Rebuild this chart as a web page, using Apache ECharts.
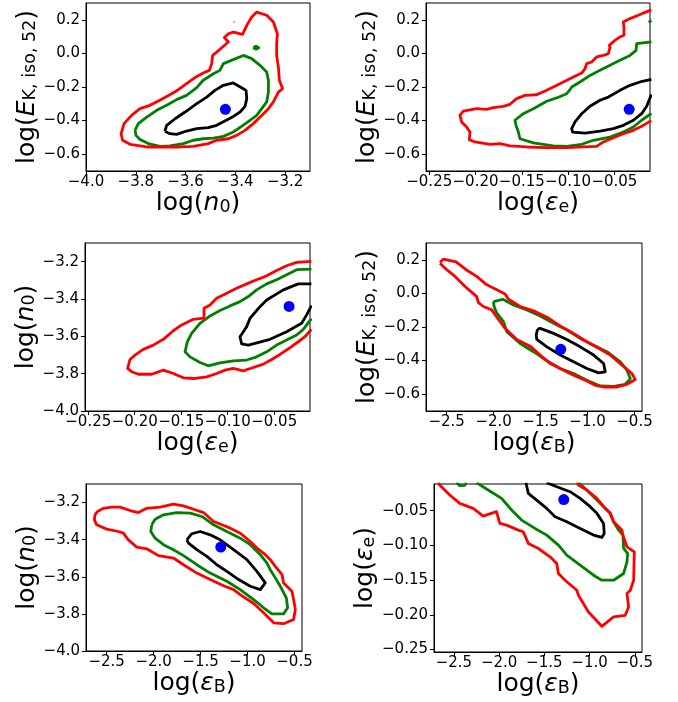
<!DOCTYPE html>
<html><head><meta charset="utf-8">
<script src="https://cdn.jsdelivr.net/npm/echarts@6/dist/echarts.min.js"></script>
<style>html,body{margin:0;padding:0;background:#fff}#c{width:678px;height:702px}</style>
</head><body><div id="c"></div>
<script>
// ---------- best-fit values ----------
const bestN0 = -3.44, bestE = -0.333, bestEe = -0.034, bestEb = -1.285;

// ---------- tick values ----------
const ticksN0 = [-4.0, -3.8, -3.6, -3.4, -3.2];
const ticksE = [-0.6, -0.4, -0.2, 0.0, 0.2];
const ticksEe = [-0.25, -0.20, -0.15, -0.10, -0.05];
const ticksEb = [-2.5, -2.0, -1.5, -1.0, -0.5];

// ---------- panel 1: log n0 vs log E ----------
const p1Red = [[-3.857,-0.468],[-3.847,-0.418],[-3.817,-0.369],[-3.783,-0.329],[-3.743,-0.309],[-3.703,-0.279],[-3.663,-0.246],[-3.629,-0.216],[-3.596,-0.180],[-3.562,-0.144],[-3.529,-0.117],[-3.504,-0.101],[-3.495,-0.061],[-3.491,-0.012],[-3.475,0.008],[-3.451,0.038],[-3.428,0.068],[-3.444,0.094],[-3.428,0.117],[-3.408,0.127],[-3.371,0.113],[-3.354,0.167],[-3.334,0.217],[-3.314,0.246],[-3.274,0.227],[-3.247,0.187],[-3.231,0.117],[-3.234,0.058],[-3.234,-0.012],[-3.227,-0.081],[-3.223,-0.160],[-3.210,-0.210],[-3.227,-0.230],[-3.247,-0.289],[-3.267,-0.329],[-3.294,-0.369],[-3.328,-0.418],[-3.361,-0.458],[-3.395,-0.488],[-3.428,-0.508],[-3.475,-0.517],[-3.509,-0.537],[-3.569,-0.553],[-3.622,-0.557],[-3.689,-0.557],[-3.756,-0.557],[-3.823,-0.541],[-3.853,-0.517],[-3.859,-0.478]];
const p1Green = [[-3.803,-0.458],[-3.790,-0.418],[-3.756,-0.379],[-3.716,-0.339],[-3.676,-0.309],[-3.636,-0.275],[-3.596,-0.250],[-3.555,-0.204],[-3.529,-0.160],[-3.488,-0.121],[-3.462,-0.101],[-3.448,-0.061],[-3.408,-0.037],[-3.368,-0.012],[-3.334,-0.031],[-3.301,-0.071],[-3.274,-0.111],[-3.267,-0.160],[-3.267,-0.230],[-3.274,-0.289],[-3.294,-0.329],[-3.314,-0.369],[-3.341,-0.398],[-3.375,-0.434],[-3.408,-0.468],[-3.448,-0.494],[-3.488,-0.504],[-3.529,-0.508],[-3.569,-0.517],[-3.609,-0.537],[-3.663,-0.551],[-3.703,-0.553],[-3.750,-0.537],[-3.783,-0.513],[-3.799,-0.488]];
const p1GreenIsland = [[-3.328,0.034],[-3.317,0.043],[-3.306,0.034],[-3.317,0.025]];
const p1RedSpeck = [[-3.407,0.187],[-3.403,0.187]];
const p1Black = [[-3.683,-0.464],[-3.676,-0.428],[-3.642,-0.389],[-3.602,-0.349],[-3.555,-0.299],[-3.515,-0.260],[-3.482,-0.220],[-3.448,-0.190],[-3.408,-0.176],[-3.375,-0.204],[-3.357,-0.220],[-3.354,-0.269],[-3.361,-0.315],[-3.381,-0.349],[-3.408,-0.375],[-3.442,-0.402],[-3.475,-0.428],[-3.509,-0.442],[-3.555,-0.448],[-3.596,-0.462],[-3.636,-0.482],[-3.663,-0.478]];

// ---------- panel 2: log eps_e vs log E ----------
const p2Red = [[-0.010,0.259],[-0.0187,0.240],[-0.0241,0.227],[-0.0331,0.207],[-0.0403,0.187],[-0.0396,0.157],[-0.0396,0.108],[-0.0439,0.098],[-0.0493,0.078],[-0.0554,0.048],[-0.0547,0.034],[-0.0565,-0.002],[-0.0619,-0.012],[-0.0691,-0.021],[-0.0745,-0.051],[-0.0799,-0.061],[-0.0817,-0.091],[-0.0853,-0.117],[-0.0943,-0.140],[-0.1051,-0.170],[-0.1159,-0.200],[-0.1249,-0.224],[-0.1339,-0.246],[-0.1465,-0.250],[-0.1556,-0.269],[-0.1628,-0.303],[-0.1700,-0.315],[-0.1808,-0.323],[-0.1880,-0.333],[-0.1988,-0.329],[-0.2132,-0.343],[-0.2168,-0.369],[-0.2150,-0.408],[-0.2096,-0.438],[-0.2060,-0.468],[-0.2067,-0.513],[-0.2006,-0.527],[-0.1844,-0.541],[-0.1736,-0.537],[-0.1628,-0.551],[-0.1447,-0.557],[-0.1231,-0.561],[-0.1015,-0.561],[-0.0835,-0.557],[-0.0691,-0.553],[-0.0619,-0.527],[-0.0511,-0.502],[-0.0403,-0.478],[-0.0295,-0.458],[-0.0205,-0.434],[-0.010,-0.400]];
const p2Green = [[-0.010,0.069],[-0.0259,0.058],[-0.0266,0.018],[-0.0331,-0.012],[-0.0439,-0.041],[-0.0547,-0.071],[-0.0655,-0.101],[-0.0763,-0.131],[-0.0871,-0.170],[-0.0961,-0.200],[-0.0979,-0.216],[-0.1015,-0.240],[-0.1123,-0.265],[-0.1231,-0.285],[-0.1375,-0.329],[-0.1484,-0.359],[-0.1574,-0.398],[-0.1563,-0.428],[-0.1537,-0.468],[-0.1520,-0.508],[-0.1375,-0.533],[-0.1159,-0.551],[-0.1015,-0.553],[-0.0853,-0.541],[-0.0727,-0.517],[-0.0547,-0.498],[-0.0403,-0.468],[-0.0295,-0.438],[-0.0205,-0.398],[-0.010,-0.357]];
const p2GreenBit = [[-0.0129,0.185],[-0.010,0.196]];
const p2Black = [[-0.010,-0.155],[-0.0223,-0.170],[-0.0331,-0.190],[-0.0439,-0.220],[-0.0565,-0.260],[-0.0655,-0.279],[-0.0763,-0.315],[-0.0853,-0.359],[-0.0925,-0.408],[-0.0961,-0.448],[-0.0951,-0.468],[-0.0817,-0.474],[-0.0655,-0.462],[-0.0511,-0.448],[-0.0403,-0.428],[-0.0295,-0.398],[-0.0205,-0.359],[-0.0151,-0.315],[-0.010,-0.245]];

// ---------- panel 3: log eps_e vs log n0 ----------
const p3Red = [[-0.010,-3.198],[-0.0258,-3.204],[-0.0366,-3.222],[-0.0474,-3.247],[-0.0581,-3.276],[-0.0689,-3.297],[-0.0796,-3.319],[-0.0904,-3.342],[-0.1011,-3.369],[-0.1119,-3.396],[-0.1190,-3.432],[-0.1255,-3.450],[-0.1255,-3.503],[-0.1370,-3.509],[-0.1495,-3.539],[-0.1585,-3.570],[-0.1692,-3.616],[-0.1800,-3.647],[-0.1908,-3.670],[-0.1997,-3.701],[-0.2051,-3.724],[-0.2076,-3.772],[-0.2033,-3.790],[-0.1961,-3.803],[-0.1818,-3.803],[-0.1692,-3.781],[-0.1585,-3.799],[-0.1477,-3.822],[-0.1370,-3.826],[-0.1226,-3.817],[-0.1119,-3.799],[-0.1029,-3.781],[-0.0940,-3.772],[-0.0832,-3.785],[-0.0725,-3.767],[-0.0617,-3.749],[-0.0527,-3.724],[-0.0438,-3.697],[-0.0330,-3.661],[-0.0241,-3.629],[-0.0169,-3.602],[-0.010,-3.563]];
const p3Green = [[-0.010,-3.240],[-0.0258,-3.243],[-0.0366,-3.270],[-0.0474,-3.297],[-0.0581,-3.319],[-0.0689,-3.351],[-0.0778,-3.387],[-0.0868,-3.414],[-0.0975,-3.437],[-0.1083,-3.462],[-0.1190,-3.491],[-0.1298,-3.530],[-0.1388,-3.584],[-0.1434,-3.629],[-0.1459,-3.683],[-0.1406,-3.710],[-0.1298,-3.740],[-0.1209,-3.758],[-0.1083,-3.742],[-0.0940,-3.731],[-0.0796,-3.727],[-0.0689,-3.710],[-0.0581,-3.683],[-0.0474,-3.647],[-0.0366,-3.620],[-0.0258,-3.593],[-0.0187,-3.563],[-0.010,-3.505]];
const p3Black = [[-0.010,-3.319],[-0.0241,-3.319],[-0.0402,-3.351],[-0.0581,-3.405],[-0.0653,-3.441],[-0.0760,-3.503],[-0.0796,-3.548],[-0.0832,-3.575],[-0.0868,-3.602],[-0.0850,-3.641],[-0.0778,-3.647],[-0.0545,-3.616],[-0.0366,-3.575],[-0.0205,-3.530],[-0.0151,-3.485],[-0.010,-3.435]];

// ---------- panel 4: log eps_B vs log E ----------
const p4Red = [[-2.571,0.184],[-2.535,0.204],[-2.400,0.188],[-2.293,0.141],[-2.180,0.101],[-2.073,0.051],[-1.966,0.021],[-1.878,-0.003],[-1.842,-0.035],[-1.718,-0.078],[-1.575,-0.104],[-1.433,-0.142],[-1.291,-0.194],[-1.149,-0.238],[-1.007,-0.288],[-0.882,-0.327],[-0.758,-0.367],[-0.633,-0.427],[-0.527,-0.477],[-0.491,-0.513],[-0.580,-0.541],[-0.687,-0.557],[-0.829,-0.557],[-0.918,-0.547],[-1.024,-0.517],[-1.149,-0.487],[-1.255,-0.457],[-1.398,-0.417],[-1.504,-0.367],[-1.611,-0.314],[-1.753,-0.274],[-1.878,-0.208],[-1.966,-0.142],[-2.020,-0.098],[-2.109,-0.078],[-2.162,-0.055],[-2.180,-0.019],[-2.304,0.041],[-2.411,0.101],[-2.500,0.141],[-2.571,0.180]];
const p4Green = [[-2.002,-0.049],[-1.902,-0.035],[-1.789,-0.069],[-1.646,-0.098],[-1.504,-0.134],[-1.362,-0.178],[-1.220,-0.218],[-1.078,-0.268],[-0.935,-0.308],[-0.793,-0.347],[-0.651,-0.407],[-0.580,-0.457],[-0.544,-0.507],[-0.598,-0.541],[-0.722,-0.553],[-0.864,-0.551],[-1.007,-0.517],[-1.149,-0.477],[-1.291,-0.447],[-1.433,-0.401],[-1.575,-0.347],[-1.718,-0.298],[-1.860,-0.228],[-1.895,-0.168],[-1.966,-0.118],[-1.995,-0.078]];
const p4GreenSpeck = [[-2.029,-0.015],[-2.025,-0.015]];
const p4Black = [[-1.533,-0.214],[-1.504,-0.208],[-1.362,-0.238],[-1.220,-0.274],[-1.078,-0.318],[-0.935,-0.367],[-0.829,-0.417],[-0.811,-0.467],[-0.882,-0.473],[-1.007,-0.447],[-1.149,-0.407],[-1.291,-0.367],[-1.433,-0.318],[-1.540,-0.274],[-1.547,-0.248]];

// ---------- panel 5: log eps_B vs log n0 ----------
const p5Red = [[-2.624,-3.266],[-2.631,-3.293],[-2.606,-3.320],[-2.500,-3.343],[-2.375,-3.356],[-2.322,-3.365],[-2.269,-3.401],[-2.180,-3.440],[-2.073,-3.449],[-1.949,-3.486],[-1.789,-3.499],[-1.682,-3.535],[-1.540,-3.580],[-1.398,-3.615],[-1.255,-3.648],[-1.149,-3.669],[-1.078,-3.696],[-0.935,-3.744],[-0.829,-3.794],[-0.722,-3.848],[-0.616,-3.853],[-0.509,-3.830],[-0.491,-3.776],[-0.509,-3.723],[-0.527,-3.678],[-0.616,-3.633],[-0.633,-3.588],[-0.704,-3.544],[-0.758,-3.508],[-0.811,-3.481],[-0.900,-3.445],[-0.971,-3.410],[-1.078,-3.365],[-1.184,-3.338],[-1.273,-3.320],[-1.362,-3.302],[-1.469,-3.254],[-1.575,-3.236],[-1.682,-3.218],[-1.789,-3.209],[-1.931,-3.225],[-2.073,-3.231],[-2.162,-3.254],[-2.251,-3.243],[-2.357,-3.225],[-2.446,-3.225],[-2.535,-3.231],[-2.599,-3.249]];
const p5RedSpeck = [[-2.420,-3.406],[-2.416,-3.406]];
const p5Green = [[-2.020,-3.320],[-2.030,-3.356],[-1.984,-3.392],[-1.895,-3.427],[-1.789,-3.454],[-1.682,-3.486],[-1.540,-3.535],[-1.398,-3.580],[-1.220,-3.624],[-1.078,-3.669],[-0.935,-3.723],[-0.829,-3.767],[-0.740,-3.800],[-0.616,-3.800],[-0.573,-3.767],[-0.587,-3.714],[-0.651,-3.651],[-0.704,-3.606],[-0.758,-3.562],[-0.793,-3.526],[-0.864,-3.481],[-0.971,-3.427],[-1.078,-3.392],[-1.220,-3.356],[-1.362,-3.320],[-1.486,-3.275],[-1.611,-3.257],[-1.753,-3.254],[-1.895,-3.266],[-1.984,-3.290]];
const p5Black = [[-1.646,-3.401],[-1.593,-3.368],[-1.504,-3.356],[-1.398,-3.374],[-1.291,-3.401],[-1.149,-3.454],[-1.007,-3.508],[-0.900,-3.571],[-0.811,-3.633],[-0.864,-3.669],[-0.971,-3.651],[-1.095,-3.615],[-1.220,-3.571],[-1.327,-3.535],[-1.433,-3.490],[-1.540,-3.454],[-1.629,-3.419]];

// ---------- panel 6: log eps_B vs log eps_e ----------
const p6Red = [[-2.672,-0.0096],[-2.657,-0.0129],[-2.546,-0.0274],[-2.435,-0.0394],[-2.287,-0.0466],[-2.176,-0.0577],[-2.029,-0.0514],[-1.992,-0.0683],[-1.918,-0.0707],[-1.788,-0.0779],[-1.733,-0.0803],[-1.677,-0.0971],[-1.566,-0.1044],[-1.437,-0.1164],[-1.363,-0.1260],[-1.344,-0.1404],[-1.271,-0.1501],[-1.141,-0.1645],[-1.123,-0.1717],[-1.012,-0.1958],[-0.864,-0.2165],[-0.734,-0.2030],[-0.605,-0.2006],[-0.568,-0.1886],[-0.586,-0.1693],[-0.549,-0.1645],[-0.512,-0.1501],[-0.505,-0.1092],[-0.586,-0.1020],[-0.631,-0.0851],[-0.642,-0.0779],[-0.734,-0.0659],[-0.771,-0.0538],[-0.827,-0.0466],[-0.919,-0.0322],[-1.030,-0.0202],[-1.123,-0.0129],[-1.141,-0.0096]];
const p6Green = [[-2.250,-0.0096],[-2.121,-0.0202],[-1.973,-0.0322],[-1.862,-0.0490],[-1.751,-0.0635],[-1.603,-0.0755],[-1.474,-0.0851],[-1.344,-0.0996],[-1.252,-0.1140],[-1.104,-0.1284],[-0.956,-0.1429],[-0.864,-0.1501],[-0.734,-0.1501],[-0.623,-0.1404],[-0.586,-0.1236],[-0.579,-0.1116],[-0.623,-0.1044],[-0.631,-0.0851],[-0.679,-0.0779],[-0.734,-0.0659],[-0.771,-0.0538],[-0.827,-0.0466],[-0.938,-0.0322],[-1.030,-0.0202],[-1.123,-0.0096]];
const p6GreenBit = [[-2.472,-0.0096],[-2.435,-0.0139],[-2.380,-0.0134],[-2.361,-0.0096]];
const p6Black = [[-1.703,-0.0096],[-1.677,-0.0250],[-1.585,-0.0346],[-1.474,-0.0466],[-1.381,-0.0587],[-1.252,-0.0659],[-1.104,-0.0755],[-0.956,-0.0851],[-0.864,-0.0885],[-0.838,-0.0827],[-0.845,-0.0683],[-0.919,-0.0538],[-0.993,-0.0442],[-1.104,-0.0322],[-1.215,-0.0226],[-1.363,-0.0154],[-1.474,-0.0096]];

// ---------- rendering ----------
const FONT = 'DejaVu Sans';
const RED = '#ff0000', GREEN = '#008000', BLACK = '#000000', BLUE = '#0000ff';
const LW = 2.8;
const RICH = {
  t: {fontFamily: FONT, fontSize: 25, color: '#000', lineHeight: 25, verticalAlign: 'top'},
  i: {fontFamily: FONT, fontSize: 25, fontStyle: 'italic', color: '#000', lineHeight: 25, verticalAlign: 'top'},
  s: {fontFamily: FONT, fontSize: 17.5, color: '#000', lineHeight: 12, verticalAlign: 'bottom'}
};
const nameN0 = '{t|log(}{i|n}{s|0}{t|)}';
const nameE = '{t|log(}{i|E}{s|K, iso, 52}{t|)}';
const nameEe = '{t|log(}{i|ε}{s|e}{t|)}';
const nameEb = '{t|log(}{i|ε}{s|B}{t|)}';

function fmt(v, d) {
  const s = Math.abs(v) < 1e-9 ? (0).toFixed(d) : v.toFixed(d);
  return s.replace('-', '\u2212');
}
function closed(a) { return a.concat([a[0]]); }

const grids = [
  {left: 86, top: 3, width: 224, height: 168},
  {left: 426, top: 3, width: 224, height: 168},
  {left: 85, top: 243, width: 225, height: 168},
  {left: 426, top: 243, width: 216, height: 168},
  {left: 86, top: 484, width: 216, height: 167},
  {left: 434, top: 484, width: 208, height: 168}
];

const rN0 = [-4.0, -3.1], rE = [-0.7, 0.3], rEe = [-0.2535, -0.0115], rEb = [-2.72, -0.42];

const panels = [
  {x: [rN0, ticksN0, 1, nameN0], y: [rE, ticksE, 1, nameE],
   lines: [[closed(p1Black), BLACK], [closed(p1Green), GREEN], [closed(p1GreenIsland), GREEN], [closed(p1Red), RED], [p1RedSpeck, RED, 1.5]],
   dot: [bestN0, bestE]},
  {x: [rEe, ticksEe, 2, nameEe], y: [rE, ticksE, 1, nameE],
   lines: [[p2Black, BLACK], [p2Green, GREEN], [p2GreenBit, GREEN], [p2Red, RED]],
   dot: [bestEe, bestE]},
  {x: [rEe, ticksEe, 2, nameEe], y: [rN0, ticksN0, 1, nameN0],
   lines: [[p3Black, BLACK], [p3Green, GREEN], [p3Red, RED]],
   dot: [bestEe, bestN0]},
  {x: [rEb, ticksEb, 1, nameEb], y: [rE, ticksE, 1, nameE],
   lines: [[closed(p4Black), BLACK], [closed(p4Green), GREEN], [p4GreenSpeck, GREEN, 1.5], [closed(p4Red), RED]],
   dot: [bestEb, bestE]},
  {x: [rEb, ticksEb, 1, nameEb], y: [rN0, ticksN0, 1, nameN0],
   lines: [[closed(p5Black), BLACK], [closed(p5Green), GREEN], [closed(p5Red), RED], [p5RedSpeck, RED, 1.5]],
   dot: [bestEb, bestN0]},
  {x: [rEb, ticksEb, 1, nameEb], y: [rEe, ticksEe, 2, nameEe],
   lines: [[p6Black, BLACK], [p6Green, GREEN], [p6GreenBit, GREEN], [p6Red, RED]],
   dot: [bestEb, bestEe]}
];

function axis(dim, gi, spec) {
  const [range, ticks, dec, name] = spec;
  return {
    type: 'value', gridIndex: gi, min: range[0], max: range[1], scale: true,
    position: dim === 'x' ? 'bottom' : 'left',
    name: name, nameLocation: 'middle', nameGap: dim === 'x' ? 20 : 40,
    nameRotate: dim === 'y' ? 90 : 0,
    nameTextStyle: {fontFamily: FONT, fontSize: 25, color: '#000', rich: RICH},
    axisLine: {show: true, onZero: false, lineStyle: {color: '#000', width: 1}},
    axisTick: {show: true, inside: false, length: 4, lineStyle: {color: '#000', width: 1}, customValues: ticks},
    axisLabel: {show: true, margin: dim === 'y' ? 6 : 4, fontFamily: FONT, fontSize: 15, color: '#000',
      customValues: ticks, formatter: v => fmt(v, dec)},
    splitLine: {show: false}, splitArea: {show: false}
  };
}

const option = {
  animation: false,
  backgroundColor: '#ffffff',
  grid: grids.map(g => Object.assign({show: true, borderColor: '#000', borderWidth: 1, backgroundColor: 'transparent', containLabel: false}, g)),
  xAxis: panels.map((p, i) => axis('x', i, p.x)),
  yAxis: panels.map((p, i) => axis('y', i, p.y)),
  series: []
};
panels.forEach((p, i) => {
  p.lines.forEach(([data, color, w]) => {
    option.series.push({type: 'line', xAxisIndex: i, yAxisIndex: i, data: data, showSymbol: false, symbol: 'none',
      lineStyle: {color: color, width: w || LW, join: 'round', opacity: 1}, clip: true, silent: true, z: 3});
  });
  option.series.push({type: 'scatter', xAxisIndex: i, yAxisIndex: i, data: [p.dot], symbolSize: 11,
    itemStyle: {color: BLUE, opacity: 1}, silent: true, z: 5});
});

const chart = echarts.init(document.getElementById('c'), null, {renderer: 'canvas'});
chart.setOption(option);
</script></body></html>
